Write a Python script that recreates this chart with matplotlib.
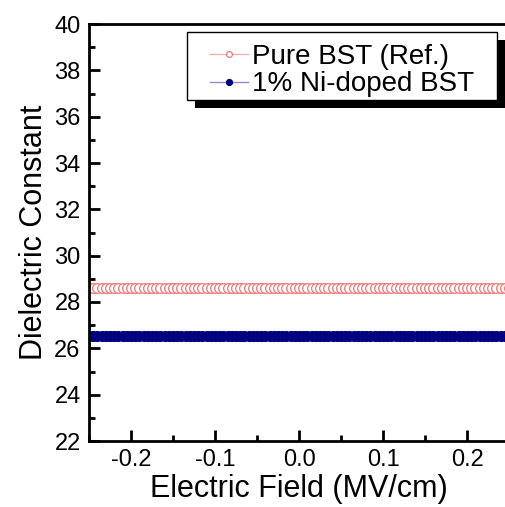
import numpy as np
import matplotlib
matplotlib.use("Agg")
from matplotlib import pyplot as plt
from matplotlib import patheffects
from matplotlib.patches import Rectangle
from matplotlib.ticker import MultipleLocator, FormatStrFormatter

plt.rcParams["font.family"] = ["Liberation Sans", "DejaVu Sans"]

# field sweep (MV/cm) and measured dielectric constant
field = np.linspace(-0.25, 0.25, 101)
pure_bst = np.full(field.size, 28.6)
ni_doped_bst = np.full(field.size, 26.55)

fig = plt.figure(figsize=(5.05, 5.07), dpi=100)
ax = fig.add_axes([89 / 505, 66 / 507, 420 / 505, 417 / 507])

ax.plot(field, pure_bst, "-o", color="#f4b0b0", mec="#f07878", mfc="white",
        ms=7, mew=0.9, lw=1, label="Pure BST (Ref.)")
ax.plot(field, ni_doped_bst, "-o", color="#9090c8", mec="#000080", mfc="#000080",
        ms=7, mew=1, lw=1, label="1% Ni-doped BST")

ax.set_xlim(-0.25, 0.25)
ax.set_ylim(22, 40)
ax.xaxis.set_major_locator(MultipleLocator(0.1))
ax.xaxis.set_minor_locator(MultipleLocator(0.05))
ax.yaxis.set_major_locator(MultipleLocator(2))
ax.yaxis.set_minor_locator(MultipleLocator(1))
ax.xaxis.set_major_formatter(FormatStrFormatter("%.1f"))
ax.tick_params(which="both", direction="in", width=2, labelsize=17, pad=6)
ax.tick_params(which="major", length=8)
ax.tick_params(which="minor", length=4)
for s in ax.spines.values():
    s.set_linewidth(2)

ax.set_xlabel("Electric Field (MV/cm)", fontsize=22, labelpad=2)
ax.set_ylabel("Dielectric Constant", fontsize=22, labelpad=4)

# legend box drawn by hand so the padding and drop shadow look like Origin's
box = Rectangle((0.2333, 0.8177), 0.7381, 0.1633, transform=ax.transAxes,
                facecolor="white", edgecolor="black", lw=1, zorder=4,
                clip_on=False)
box.set_path_effects([
    patheffects.SimplePatchShadow(offset=(5.5, -5.5), shadow_rgbFace="black", alpha=1),
    patheffects.Normal(),
])
ax.add_patch(box)

leg = ax.legend(loc="upper left", bbox_to_anchor=(0.288, 0.952), fontsize=20,
                frameon=False, markerscale=0.6, handlelength=1.37,
                handletextpad=0.15, borderpad=0, labelspacing=0.05,
                borderaxespad=0)
leg.set_zorder(5)

fig.savefig("out.png", dpi=100)
